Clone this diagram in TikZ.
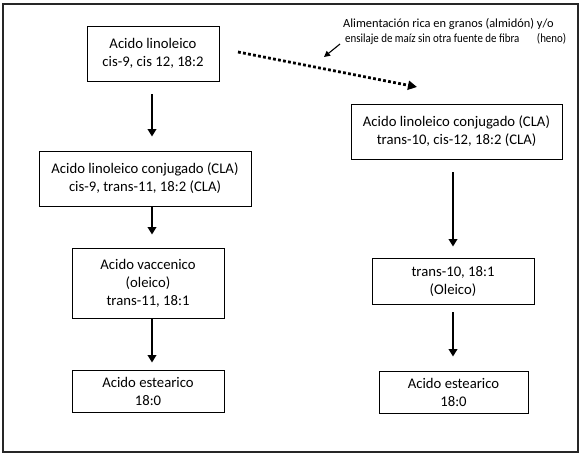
\documentclass[tikz,border=0pt]{standalone}
\usepackage{fontspec}
\setmainfont{Carlito}
\usetikzlibrary{arrows.meta}
\begin{document}
\begin{tikzpicture}[x=1pt,y=-1pt,
  box/.style={draw=black,line width=0.9pt,rectangle,inner sep=0pt,align=center,
    font=\fontsize{14.7}{18}\selectfont},
  arr/.style={line width=2.3pt,-{Triangle[width=8.5pt,length=7.5pt]}},
  dotarr/.style={line width=2.8pt,dash pattern=on 2.8pt off 2.3pt,-{Triangle[width=9pt,length=9pt]}},
  thinarr/.style={line width=1.1pt,-{Triangle[width=6pt,length=6pt]}},
  note/.style={align=left,inner sep=0pt,font=\fontsize{12.4}{15}\selectfont}]
\useasboundingbox (0,0) rectangle (583,457);
\draw[line width=1.3pt,draw=black!85] (3,4) rectangle (578,452);
% left column
\node[box,minimum width=132pt,minimum height=55pt] (b1) at (153,53.5)
  {Acido linoleico\\cis-9, cis 12, 18:2};
\node[box,minimum width=212pt,minimum height=55pt] (b2) at (145,178.5)
  {Acido linoleico conjugado (CLA)\\cis-9, trans-11, 18:2 (CLA)};
\node[box,minimum width=152pt,minimum height=70pt] (b3) at (148,283)
  {Acido vaccenico\\(oleico)\\trans-11, 18:1};
\node[box,minimum width=152pt,minimum height=42pt] (b4) at (148,391)
  {Acido estearico\\18:0};
% right column
\node[box,minimum width=211pt,minimum height=55pt] (r1) at (456.5,131.5)
  {Acido linoleico conjugado (CLA)\\trans-10, cis-12, 18:2 (CLA)};
\node[box,minimum width=162pt,minimum height=46pt] (r2) at (453,281)
  {trans-10, 18:1\\(Oleico)};
\node[box,minimum width=149pt,minimum height=42pt] (r3) at (453.5,392)
  {Acido estearico\\18:0};
% note
\node[note,anchor=north west] (nt) at (343,18)
  {Alimentación rica en granos (almidón) y/o\\\hspace*{2pt}\scalebox{0.88}[1]{ensilaje de maíz sin otra fuente de fibra\hspace{20pt}(heno)}};
% arrows
\coordinate (c1) at (152,0);
\draw[arr,shorten <=13pt,shorten >=14pt] (b1.south -| c1) -- (b2.north -| c1);
\draw[arr,shorten <=1pt,shorten >=13pt] (b2.south -| c1) -- (b3.north -| c1);
\draw[arr,shorten <=0pt,shorten >=7pt] (b3.south -| c1) -- (b4.north -| c1);
\coordinate (c2) at (453,0);
\draw[arr,shorten <=13pt,shorten >=11pt] (r1.south -| c2) -- (r2.north -| c2);
\draw[arr,shorten <=8pt,shorten >=14pt] (r2.south -| c2) -- (r3.north -| c2);
\coordinate (ds) at (238,52);
\coordinate (de) at (417,87);
\draw[dotarr] (ds) -- (de);
\coordinate (ns) at (340,44);
\coordinate (ne) at (324,57);
\draw[thinarr] (ns) -- (ne);
\end{tikzpicture}
\end{document}
